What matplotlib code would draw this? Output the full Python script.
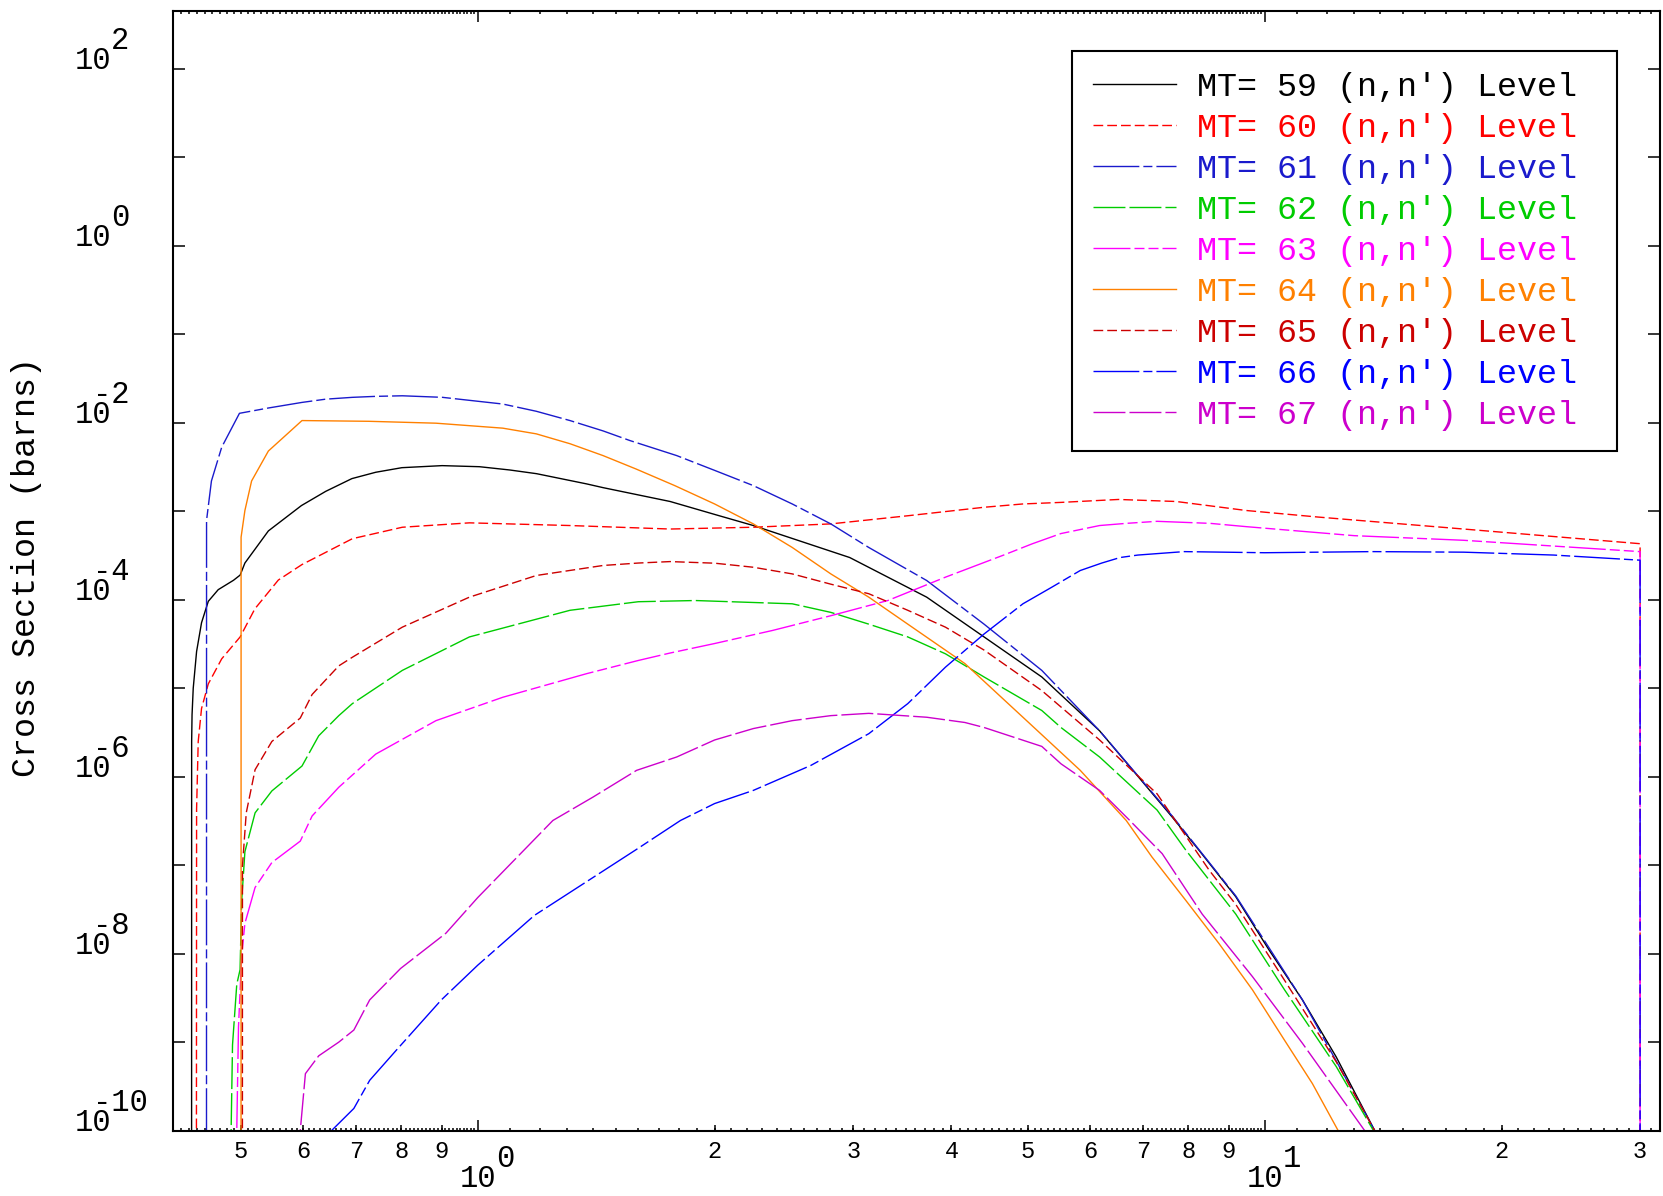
import matplotlib
matplotlib.use('Agg')
import matplotlib.pyplot as plt
from matplotlib.ticker import FixedLocator, NullFormatter, NullLocator
from matplotlib.transforms import blended_transform_factory
import numpy as np

plt.rcParams['font.family'] = ['Liberation Mono', 'DejaVu Sans Mono']
plt.rcParams['lines.scale_dashes'] = False

# incident energy (MeV) and cross section (barns)
e_59 = [0.4329, 0.4330, 0.4335, 0.435, 0.4393, 0.4457, 0.4546, 0.468, 0.4894, 0.4990,
        0.506, 0.542, 0.597, 0.641, 0.692, 0.742, 0.801, 0.901, 1.005, 1.098,
        1.188, 1.375, 1.443, 1.756, 2.01, 2.24, 2.97, 3.72, 4.40, 5.21,
        6.17, 7.63, 8.25, 9.19, 10.13, 11.17, 12.33, 13.8, 14.3]
xs_59 = [1e-12, 2.5e-6, 5.0e-6, 1.0e-5, 2.6e-5, 5.5e-5, 9.6e-5, 1.3e-4, 1.66e-4, 1.9e-4,
         2.6e-4, 6.0e-4, 1.16e-3, 1.68e-3, 2.34e-3, 2.76e-3, 3.11e-3, 3.28e-3, 3.19e-3, 2.93e-3,
         2.66e-3, 2.04e-3, 1.85e-3, 1.29e-3, 9.1e-4, 6.9e-4, 3.0e-4, 1.07e-4, 3.8e-5, 1.34e-5,
         3.3e-6, 3.5e-7, 1.48e-7, 4.4e-8, 1.1e-8, 3.0e-9, 6.8e-10, 1e-10, 1e-11]

e_60 = [0.4390, 0.4393, 0.4414, 0.4457, 0.4546, 0.4728, 0.499, 0.521, 0.558, 0.598,
        0.693, 0.802, 0.976, 1.31, 1.756, 2.24, 2.81, 3.52, 4.40, 4.93,
        5.51, 6.52, 7.72, 9.48, 11.7, 17.9, 30.0, 30.0]
xs_60 = [1e-12, 4.3e-7, 2.5e-6, 5.9e-6, 1.12e-5, 2.15e-5, 3.8e-5, 7.9e-5, 1.67e-4, 2.5e-4,
         4.9e-4, 6.6e-4, 7.4e-4, 6.9e-4, 6.3e-4, 6.6e-4, 7.2e-4, 8.9e-4, 1.11e-3, 1.21e-3,
         1.26e-3, 1.36e-3, 1.29e-3, 1.02e-3, 8.6e-4, 6.3e-4, 4.3e-4, 1e-12]

e_61 = [0.4522, 0.4523, 0.4588, 0.4728, 0.498, 0.542, 0.598, 0.641, 0.693, 0.742,
        0.802, 0.902, 1.076, 1.187, 1.31, 1.443, 1.561, 1.79, 2.00, 2.24,
        2.51, 2.81, 3.14, 3.72, 4.40, 5.21, 6.17, 7.63, 9.19, 11.17,
        13.8, 14.3]
xs_61 = [1e-12, 7.9e-4, 2.2e-3, 5.3e-3, 0.0128, 0.0147, 0.0170, 0.0185, 0.0194, 0.0199,
         0.0202, 0.0194, 0.0163, 0.0135, 0.0106, 8.1e-3, 6.3e-3, 4.26e-3, 2.9e-3, 1.95e-3,
         1.21e-3, 7.2e-4, 3.9e-4, 1.65e-4, 5.3e-5, 1.59e-5, 3.3e-6, 3.6e-7, 4.5e-8, 3.0e-9,
         1e-10, 1e-11]

e_62 = [0.4859, 0.486, 0.488, 0.4941, 0.4989, 0.5012, 0.506, 0.5213, 0.5475, 0.598,
        0.628, 0.666, 0.693, 0.802, 0.976, 1.31, 1.6, 1.89, 2.51, 2.81,
        3.14, 3.52, 3.93, 4.40, 5.21, 5.51, 6.17, 7.30, 7.94, 9.19,
        10.6, 12.33, 13.75, 14.3]
xs_62 = [1e-12, 1e-10, 9.3e-10, 4.5e-9, 6.6e-9, 3.9e-8, 1.42e-7, 3.9e-7, 6.9e-7, 1.32e-6,
         2.9e-6, 4.9e-6, 6.7e-6, 1.59e-5, 3.8e-5, 7.6e-5, 9.5e-5, 9.8e-5, 9.0e-5, 7.2e-5,
         5.3e-5, 3.8e-5, 2.45e-5, 1.34e-5, 5.6e-6, 3.6e-6, 1.67e-6, 4.2e-7, 1.48e-7, 2.8e-8,
         3.9e-9, 5.3e-10, 1e-10, 1e-11]

e_63 = [0.4940, 0.4941, 0.4966, 0.5012, 0.506, 0.5213, 0.5475, 0.595, 0.616, 0.666,
        0.742, 0.885, 1.076, 1.375, 1.6, 1.756, 2.00, 2.37, 2.81, 3.32,
        3.93, 4.66, 5.07, 5.51, 6.17, 6.67, 7.30, 8.53, 9.48, 13.0,
        17.9, 30.0, 30.0]
xs_63 = [1e-12, 1e-10, 1.48e-9, 9.5e-9, 2.2e-8, 5.6e-8, 1.07e-7, 1.87e-7, 3.6e-7, 7.6e-7,
         1.8e-6, 4.3e-6, 7.9e-6, 1.46e-5, 2.06e-5, 2.5e-5, 3.2e-5, 4.5e-5, 6.6e-5, 9.8e-5,
         1.8e-4, 3.2e-4, 4.3e-4, 5.6e-4, 6.9e-4, 7.3e-4, 7.7e-4, 7.3e-4, 6.7e-4, 5.3e-4,
         4.7e-4, 3.5e-4, 1e-12]

e_64 = [0.5003, 0.5004, 0.506, 0.516, 0.542, 0.570, 0.598, 0.727, 0.885, 1.076,
        1.187, 1.31, 1.443, 1.59, 1.78, 2.00, 2.24, 2.51, 2.81, 3.14,
        3.52, 4.16, 4.93, 5.83, 6.67, 7.19, 7.94, 8.75, 9.65, 10.6,
        11.5, 12.4, 12.9]
xs_64 = [1e-12, 5.1e-4, 1.02e-3, 2.2e-3, 4.8e-3, 7.2e-3, 0.0106, 0.0104, 0.0099, 8.7e-3,
         7.5e-3, 5.8e-3, 4.26e-3, 3.0e-3, 1.95e-3, 1.21e-3, 7.2e-4, 3.9e-4, 1.96e-4, 1.07e-4,
         5.3e-5, 1.9e-5, 4.7e-6, 1.18e-6, 3.2e-7, 1.24e-7, 4.0e-8, 1.3e-8, 3.9e-9, 1.05e-9,
         3.4e-10, 1e-10, 1e-11]

e_65 = [0.5023, 0.5024, 0.508, 0.5213, 0.5475, 0.595, 0.616, 0.666, 0.693, 0.802,
        0.976, 1.187, 1.443, 1.6, 1.756, 2.00, 2.24, 2.51, 2.81, 3.14,
        3.52, 3.93, 4.40, 5.21, 6.17, 7.30, 8.5, 9.19, 10.6, 12.33,
        13.8, 14.3]
xs_65 = [1e-12, 9.8e-8, 3.9e-7, 1.2e-6, 2.5e-6, 4.6e-6, 8.5e-6, 1.79e-5, 2.24e-5, 4.9e-5,
         1.07e-4, 1.88e-4, 2.44e-4, 2.6e-4, 2.7e-4, 2.59e-4, 2.33e-4, 1.96e-4, 1.5e-4, 1.17e-4,
         7.6e-5, 4.9e-5, 2.7e-5, 9.4e-6, 2.6e-6, 6.4e-7, 8.8e-8, 3.6e-8, 5e-9, 6e-10,
         1e-10, 1e-11]

e_66 = [0.651, 0.652, 0.696, 0.729, 0.788, 0.899, 1.0, 1.18, 1.59, 1.81,
        2.00, 2.24, 2.65, 3.14, 3.52, 3.93, 4.40, 4.93, 5.36, 5.83,
        6.21, 6.55, 6.90, 7.90, 10.0, 13.7, 17.9, 23.3, 30.0, 30.0]
xs_66 = [1e-12, 1e-10, 1.78e-10, 3.7e-10, 8.1e-10, 3.0e-9, 7.4e-9, 2.7e-8, 1.5e-7, 3.2e-7,
         4.97e-7, 7.0e-7, 1.34e-6, 3.06e-6, 6.7e-6, 1.73e-5, 4.1e-5, 9.0e-5, 1.38e-4, 2.14e-4,
         2.6e-4, 3.0e-4, 3.2e-4, 3.5e-4, 3.4e-4, 3.5e-4, 3.45e-4, 3.2e-4, 2.8e-4, 1e-12]

e_67 = [0.594, 0.595, 0.604, 0.628, 0.666, 0.696, 0.729, 0.798, 0.911, 1.0,
        1.246, 1.402, 1.592, 1.79, 2.00, 2.24, 2.51, 2.81, 3.14, 3.72,
        4.16, 4.40, 5.21, 5.51, 6.17, 6.74, 7.41, 8.33, 9.65, 11.17,
        13.4, 14.0]
xs_67 = [1e-12, 1e-10, 4.4e-10, 7.0e-10, 1.0e-9, 1.37e-9, 3.0e-9, 6.8e-9, 1.7e-8, 4.3e-8,
         3.2e-7, 5.9e-7, 1.18e-6, 1.67e-6, 2.6e-6, 3.5e-6, 4.3e-6, 4.9e-6, 5.2e-6, 4.7e-6,
         4.1e-6, 3.6e-6, 2.2e-6, 1.4e-6, 7.0e-7, 3.2e-7, 1.35e-7, 2.8e-8, 5.5e-9, 9.7e-10,
         1e-10, 1e-11]

mt_numbers = [59, 60, 61, 62, 63, 64, 65, 66, 67]
energies = [e_59, e_60, e_61, e_62, e_63, e_64, e_65, e_66, e_67]
sections = [xs_59, xs_60, xs_61, xs_62, xs_63, xs_64, xs_65, xs_66, xs_67]
colors = ['#000000', '#ff0000', '#1a1acc', '#00cc00', '#ff00ff',
          '#ff8000', '#cc0000', '#0000ff', '#cc00cc']
styles = ['-', (0, (7.0, 2.9)), (0, (33, 2.9, 6.5, 2.9)), (0, (23, 2.9)),
          (0, (26.6, 2.9, 7.2, 2.9, 7.2, 2.9)), '-', (0, (7.0, 2.9)),
          (0, (33, 2.9, 6.5, 2.9)), (0, (23, 2.9))]

fig = plt.figure(figsize=(16.63, 11.96), dpi=100)
ax = fig.add_axes([173 / 1663, 1 - 1130.6 / 1196, 1487 / 1663, 1120 / 1196])
ax.set_xscale('log')
ax.set_yscale('log')

handles = []
for e, xs, c, ls in zip(energies, sections, colors, styles):
    line, = ax.plot(e, xs, color=c, linestyle=ls, linewidth=1.0)
    handles.append(line)

ax.set_xlim(0.41, 31.8)
ax.set_ylim(1e-10, 456)

for sp in ax.spines.values():
    sp.set_linewidth(1.5)

# x ticks: decades, fine linear ticks in between
ax.xaxis.set_major_locator(FixedLocator([1.0, 10.0]))
ax.xaxis.set_major_formatter(NullFormatter())
fine = list(np.round(np.arange(0.41, 0.995, 0.01), 3)) + \
    list(np.round(np.arange(1.1, 9.95, 0.1), 2)) + list(np.arange(11.0, 32.0, 1.0))
ax.xaxis.set_minor_locator(FixedLocator(fine))
ax.xaxis.set_minor_formatter(NullFormatter())

ax.yaxis.set_major_locator(FixedLocator([10.0 ** k for k in range(-10, 3, 2)]))
ax.yaxis.set_major_formatter(NullFormatter())
ax.yaxis.set_minor_locator(FixedLocator([10.0 ** k for k in range(-9, 3, 2)]))
ax.yaxis.set_minor_formatter(NullFormatter())

ax.tick_params(which='both', direction='in', top=True, right=True, width=1.1)
ax.tick_params(axis='x', which='major', length=7.9)
ax.tick_params(axis='x', which='minor', length=2.4)
ax.tick_params(axis='y', which='both', length=8.6)

# integer sub-decade ticks with their small labels
int_ticks = [0.5, 0.6, 0.7, 0.8, 0.9, 2, 3, 4, 5, 6, 7, 8, 9, 20, 30]
int_labels = ['5', '6', '7', '8', '9', '2', '3', '4', '5', '6', '7', '8', '9', '2', '3']
sec = ax.secondary_xaxis('bottom')
sec.set_xticks(int_ticks, labels=int_labels)
sec.xaxis.set_minor_locator(NullLocator())
sec.xaxis.set_minor_formatter(NullFormatter())
sec.spines['bottom'].set_visible(False)
sec.tick_params(direction='in', length=4.3, width=1.1, pad=6.5, labelsize=17)

# decade labels, exponent same size and raised
tx = blended_transform_factory(ax.transData, ax.transAxes)
for val, ex in [(1.0, '0'), (10.0, '1')]:
    ax.annotate('10', xy=(val, 0), xycoords=tx, xytext=(0, -40.6), textcoords='offset points',
                ha='center', va='baseline', fontsize=22, annotation_clip=False)
    ax.annotate(ex, xy=(val, 0), xycoords=tx, xytext=(13.2, -26.2), textcoords='offset points',
                ha='left', va='baseline', fontsize=22, annotation_clip=False)

ty = blended_transform_factory(ax.transAxes, ax.transData)
for k in range(-10, 3, 2):
    ax.annotate('10', xy=(0, 10.0 ** k), xycoords=ty, xytext=(-71, 0), textcoords='offset points',
                ha='left', va='baseline', fontsize=22, annotation_clip=False)
    dx = -57.8 if k < 0 else -44.6
    ax.annotate(str(k), xy=(0, 10.0 ** k), xycoords=ty, xytext=(dx, 14), textcoords='offset points',
                ha='left', va='baseline', fontsize=22, annotation_clip=False)

fig.text(26.5 / 1663, 0.526, 'Cross Section (barns)', rotation=90, ha='center', va='center',
         fontsize=24)

labels = ["MT= %d (n,n') Level " % mt for mt in mt_numbers]
leg = ax.legend(handles, labels, loc='upper right', bbox_to_anchor=(0.9714, 0.964),
                borderaxespad=0, fontsize=24, handlelength=2.5, handletextpad=0.62,
                labelspacing=0.3, borderpad=0.62, fancybox=False, framealpha=1,
                edgecolor='black')
leg.get_frame().set_linewidth(1.5)
for t, c in zip(leg.get_texts(), colors):
    t.set_color(c)

fig.savefig('out.png', dpi=100)
